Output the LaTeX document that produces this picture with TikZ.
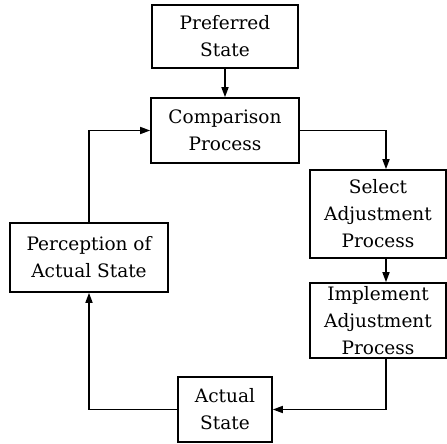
\documentclass[tikz,border=0pt]{standalone}
\usepackage{fontspec}
\setmainfont{DejaVu Serif}
\usetikzlibrary{arrows.meta}
\begin{document}
\begin{tikzpicture}[x=1pt,y=-1pt,
  box/.style={draw, line width=1.6pt, inner sep=0pt, align=center,
    font=\fontsize{18.5}{27}\selectfont},
  link/.style={line width=1.6pt},
  flow/.style={link, -{Triangle[length=10pt,width=7pt]}}]
\useasboundingbox (0,0) rectangle (447,444);

\node[box, minimum width=146pt, minimum height=63pt] (pref) at (225,36.5) {Preferred\\State};
\node[box, minimum width=148pt, minimum height=65pt] (comp) at (225,130.5) {Comparison\\Process};
\node[box, minimum width=136pt, minimum height=88pt] (sel) at (378,214) {Select\\Adjustment\\Process};
\node[box, minimum width=136pt, minimum height=75pt] (impl) at (378,320.5) {Implement\\Adjustment\\Process};
\node[box, minimum width=94pt, minimum height=65pt] (act) at (225,409.5) {Actual\\State};
\node[box, minimum width=158pt, minimum height=69pt] (perc) at (89,257.5) {Perception of\\Actual State};

\coordinate (rx) at (386,0);

\draw[flow] (pref) -- (comp);
\draw[flow] (comp.east) -| (sel.north -| rx);
\draw[flow] (sel.south -| rx) -- (impl.north -| rx);
\draw[flow] (impl.south -| rx) |- (act.east);
\draw[flow] (act.west) -| (perc.south);
\draw[flow] (perc.north) |- (comp.west);
\end{tikzpicture}
\end{document}
